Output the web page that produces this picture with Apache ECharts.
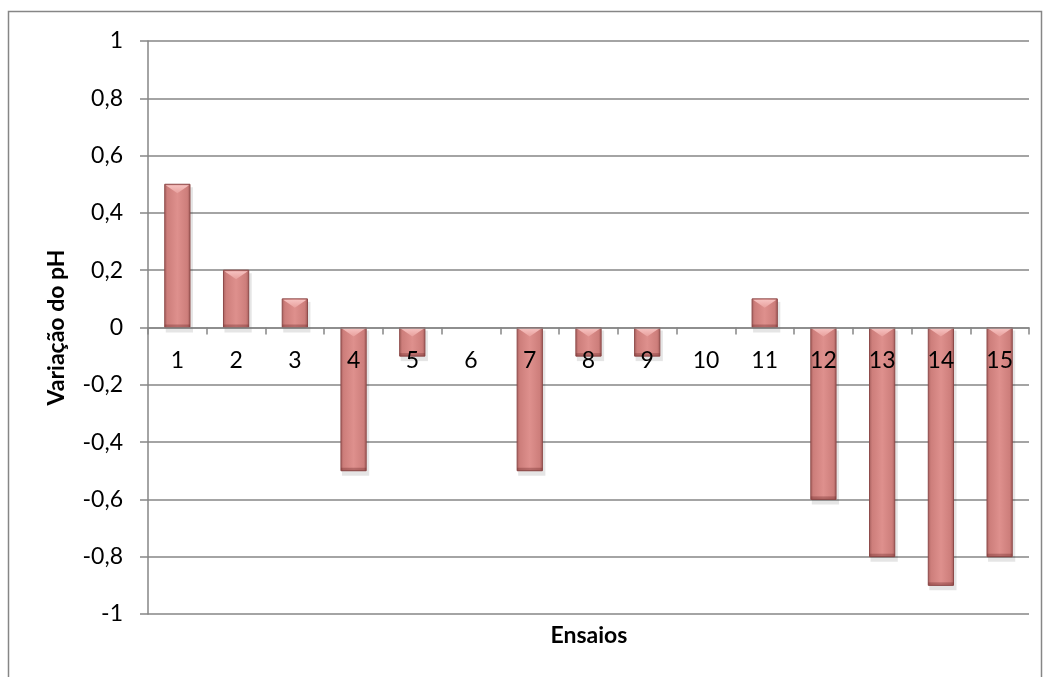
<!DOCTYPE html>
<html><head><meta charset="utf-8">
<script src="https://cdn.jsdelivr.net/npm/echarts@6/dist/echarts.min.js"></script>
<style>html,body{margin:0;padding:0;background:#fff}#c{width:1045px;height:677px}</style>
</head><body><div id="c"></div>
<script>
var categories = ['1','2','3','4','5','6','7','8','9','10','11','12','13','14','15'];
var values = [0.5, 0.2, 0.1, -0.5, -0.1, 0, -0.5, -0.1, -0.1, 0, 0.1, -0.6, -0.8, -0.9, -0.8];
var yTicks = [-1, -0.8, -0.6, -0.4, -0.2, 0, 0.2, 0.4, 0.6, 0.8, 1];
var FONT = 'Lato';

var chart = echarts.init(document.getElementById('c'));
function renderBar(params, api) {
  var v = api.value(1);
  if (v === 0) return null;
  var p0 = api.coord([api.value(0), 0]);
  var p1 = api.coord([api.value(0), v]);
  var w = api.size([1, 0])[0] * 0.43;
  var x = p0[0] - w / 2;
  var top = Math.min(p0[1], p1[1]);
  var h = Math.abs(p1[1] - p0[1]);
  var bev = Math.min(9, h / 2);
  return {
    type: 'group',
    children: [
      {type: 'rect', shape: {x: x + 1, y: top + 3, width: w + 2, height: h + 2},
       style: {fill: 'rgba(0,0,0,0.10)'}, z2: 1},
      {type: 'rect', shape: {x: x, y: top, width: w, height: h},
       style: {fill: new echarts.graphic.LinearGradient(0, 0, 1, 0, [
         {offset: 0, color: '#a6605e'}, {offset: 0.12, color: '#cd7e7b'},
         {offset: 0.5, color: '#de908d'}, {offset: 0.88, color: '#cd7e7b'},
         {offset: 1, color: '#a25b59'}]),
         stroke: '#8e4a49', lineWidth: 1}, z2: 2},
      {type: 'polygon', shape: {points: [[x + 1, top + 1], [x + w - 1, top + 1], [x + w / 2, top + bev]]},
       style: {fill: new echarts.graphic.LinearGradient(0, 0, 0, 1, [
         {offset: 0, color: '#f6c2c0'}, {offset: 1, color: '#e8a09d'}])}, z2: 3},
      {type: 'rect', shape: {x: x, y: top + h - 3, width: w, height: 3},
       style: {fill: 'rgba(110,40,40,0.35)'}, z2: 3}
    ]
  };
}

chart.setOption({
  animation: false,
  grid: {left: 148, right: 16, top: 41, bottom: 63, containLabel: false},
  xAxis: {
    type: 'category', data: categories, position: 'bottom', offset: -286.5,
    axisLine: {onZero: false, lineStyle: {color: '#868686', width: 1.5}},
    axisTick: {show: true, length: 7, lineStyle: {color: '#868686', width: 1.5}},
    axisLabel: {color: '#000', fontFamily: FONT, fontSize: 23, margin: 22},
    z: 10
  },
  yAxis: {
    type: 'value', min: -1, max: 1, interval: 0.2,
    name: 'Variação do pH', nameLocation: 'middle', nameGap: 80,
    nameTextStyle: {fontFamily: FONT, fontSize: 23, fontWeight: 'bold', color: '#000'},
    axisLine: {show: true, lineStyle: {color: '#868686', width: 1.5}},
    axisTick: {show: true, length: 8, lineStyle: {color: '#868686', width: 1.5}},
    splitLine: {lineStyle: {color: '#868686', width: 1.5}},
    axisLabel: {color: '#000', fontFamily: FONT, fontSize: 23, margin: 25,
      formatter: function (v) { var r = Math.round(v * 10) / 10; return String(r).replace('.', ','); }}
  },
  series: [{
    type: 'custom', renderItem: renderBar,
    data: categories.map(function (c, i) { return [i, values[i]]; }),
    encode: {x: 0, y: 1}, z: 2
  }],
  graphic: [
    {type: 'polyline', shape: {points: [[8.5, 677], [8.5, 11.5], [1041.5, 11.5], [1041.5, 677]]},
     style: {stroke: '#868686', lineWidth: 1.5, fill: null}},
    {type: 'text', x: 589, y: 636, style: {text: 'Ensaios', fontFamily: FONT, fontSize: 23, fontWeight: 'bold',
      fill: '#000', align: 'center', verticalAlign: 'middle'}}
  ]
});
</script></body></html>
